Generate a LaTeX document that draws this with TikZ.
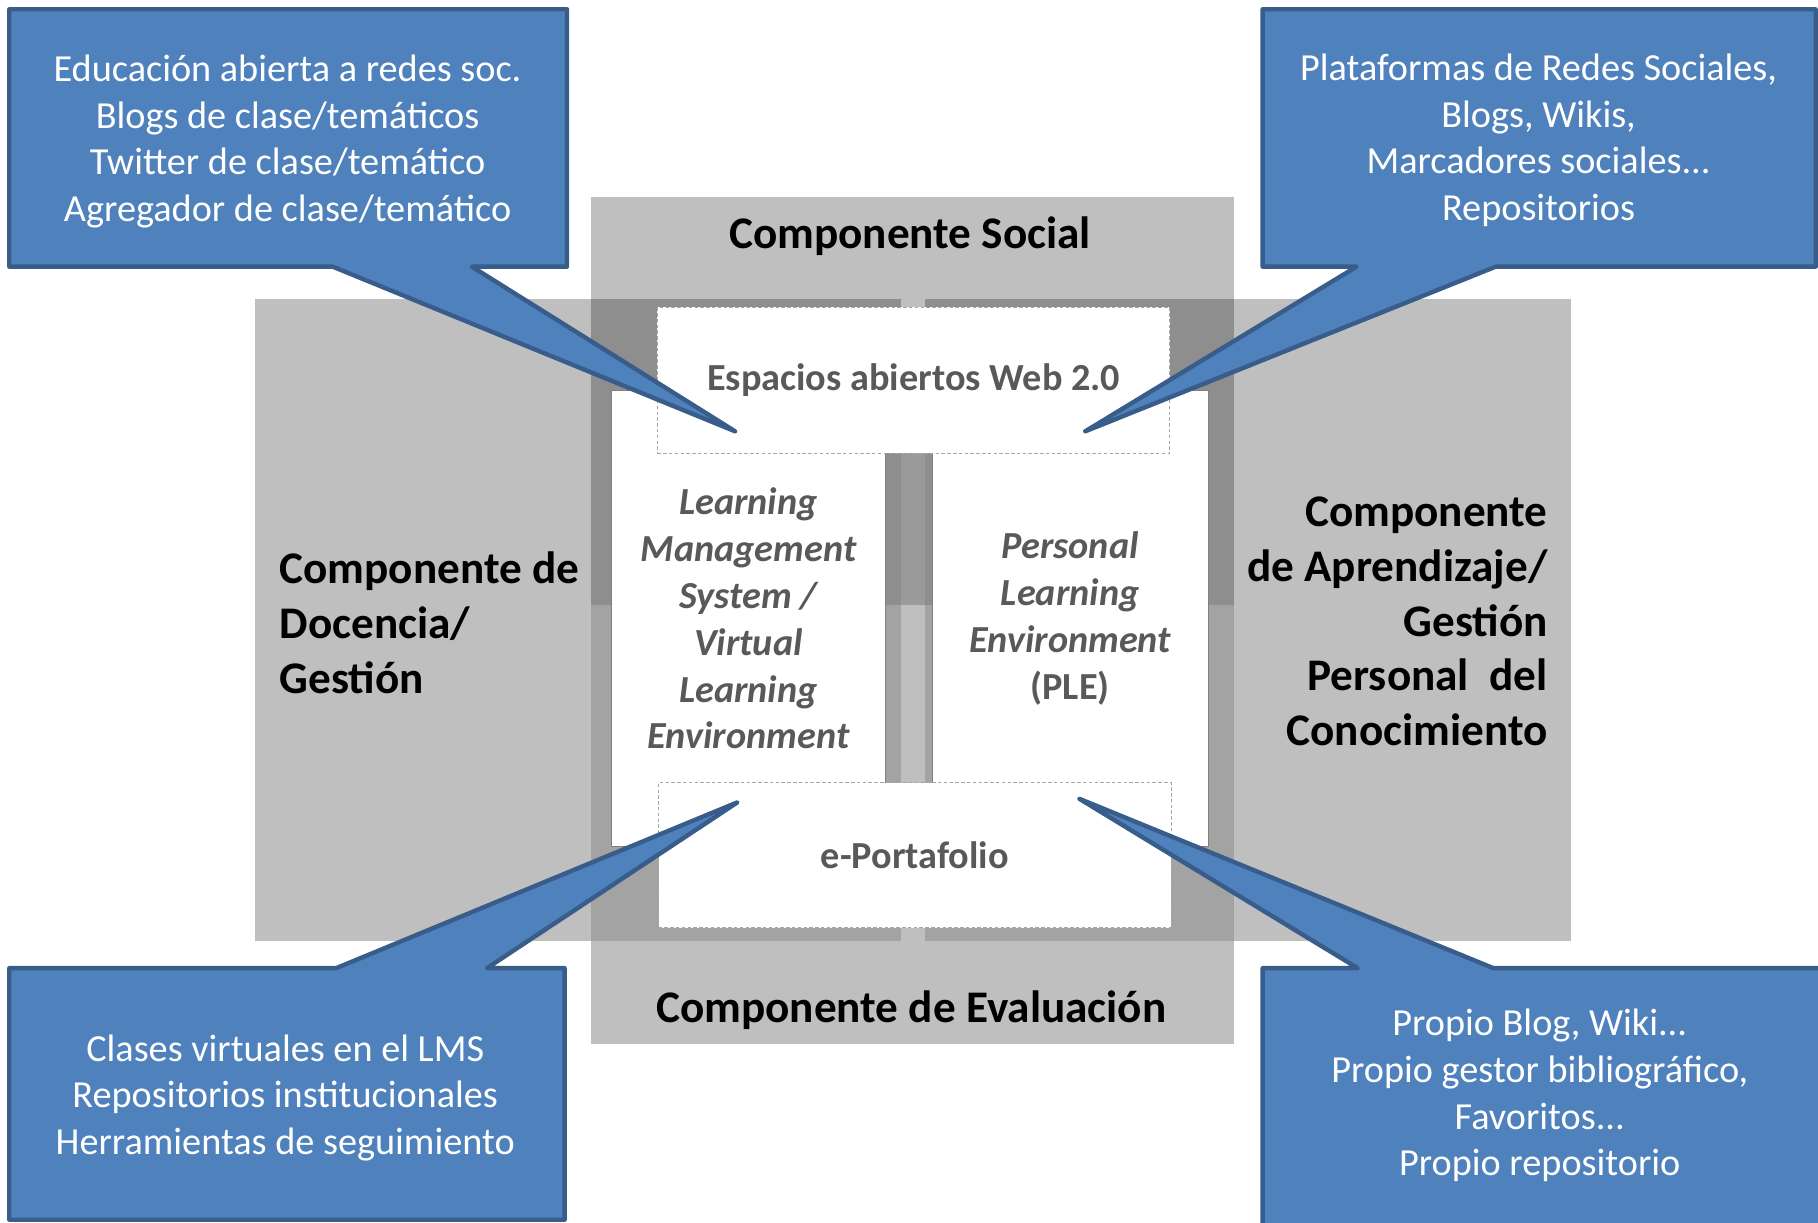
\documentclass[tikz,border=0pt]{standalone}
\usepackage{fontspec}
\setmainfont{Carlito}
\definecolor{bandgray}{HTML}{BFBFBF}
\definecolor{midgray}{HTML}{A3A3A3}
\definecolor{deepgray}{HTML}{8E8E8E}
\definecolor{gapgray}{HTML}{9A9A9A}
\definecolor{bubblefill}{HTML}{4F81BD}
\definecolor{bubbleline}{HTML}{385D8A}
\definecolor{inktext}{HTML}{595959}
\begin{document}
\begin{tikzpicture}[x=1pt,y=-1pt,
  bubble/.style={fill=bubblefill,draw=bubbleline,line width=3.8pt,line join=round},
  bubbletext/.style={text=white,align=center,inner sep=0pt,font=\fontsize{33}{40.3}\selectfont},
  inbox/.style={fill=white,draw=gray,line width=0.8pt,inner sep=0pt},
  dashbox/.style={fill=white,draw=gray!70,line width=0.8pt,dash pattern=on 3pt off 2pt,inner sep=0pt},
  intext/.style={text=inktext,align=center,font=\bfseries\fontsize{33}{40.4}\selectfont},
  compo/.style={inner sep=0pt,font=\bfseries\fontsize{39}{47.3}\selectfont}]
  \useasboundingbox (0,0) rectangle (1568,1054);
  \clip (0,0) rectangle (1568,1054);
  % gray bands
  \fill[bandgray] (510,170) rectangle (1064,900);
  \fill[bandgray] (220,258) rectangle (1355,812);
  \foreach \xa/\xb in {510/777,798/1064} {
    \fill[midgray] (\xa,258) rectangle (\xb,812);
    \fill[deepgray] (\xa,258) rectangle (\xb,522);
  }
  \fill[gapgray] (777,265) rectangle (798,522);
  % inner boxes
  \node (lms) [inbox,intext,minimum width=237pt,minimum height=393pt] at (645.5,533.5)
    {\itshape Learning\\\itshape Management\\\itshape System /\\\itshape Virtual\\\itshape Learning\\\itshape Environment};
  \node (ple) [inbox,intext,minimum width=238pt,minimum height=393pt] at (923,533.5)
    {\itshape Personal\\\itshape Learning\\\itshape Environment\\(PLE)};
  \node (web) [dashbox,intext,minimum width=442pt,minimum height=126pt] at (788,328)
    {Espacios abiertos Web 2.0};
  \node (port) [dashbox,intext,minimum width=442pt,minimum height=125pt] at (789,737.5)
    {e-Portafolio};
  % component labels
  \node (social) [compo] at (785,204) {Componente Social};
  \node (evalua) [compo] at (786,871) {Componente de Evaluación};
  \node (docen) [compo,anchor=west,align=left] at (241,537)
    {Componente de\\Docencia/\\Gestión};
  \node (aprend) [compo,anchor=east,align=right] at (1335,536)
    {Componente\\de Aprendizaje/\\Gestión\\Personal~ del\\Conocimiento};
  % callouts
  \coordinate (tipTL) at (634,372);
  \coordinate (tipTR) at (936,372);
  \coordinate (tipBL) at (636,692);
  \coordinate (tipBR) at (931,689);
  \draw[bubble] (8,8) -- (489,8) -- (489,230) -- (407,230) -- (tipTL) -- (287,230) -- (8,230) -- cycle;
  \draw[bubble] (1089,8) -- (1566,8) -- (1566,230) -- (1290,230) -- (tipTR) -- (1170,230) -- (1089,230) -- cycle;
  \draw[bubble] (8,835) -- (290,835) -- (tipBL) -- (420,835) -- (487,835) -- (487,1052) -- (8,1052) -- cycle;
  \draw[bubble] (1089,835) -- (1171,835) -- (tipBR) -- (1288,835) -- (1575,835) -- (1575,1062) -- (1089,1062) -- cycle;
  \node (tltext) [bubbletext] at (248,122)
    {Educación abierta a redes soc.\\Blogs de clase/temáticos\\Twitter de clase/temático\\Agregador de clase/temático};
  \node (trtext) [bubbletext] at (1327,121)
    {Plataformas de Redes Sociales,\\Blogs, Wikis,\\Marcadores sociales...\\Repositorios};
  \node (bltext) [bubbletext] at (246,947)
    {Clases virtuales en el LMS\\Repositorios institucionales\\Herramientas de seguimiento};
  \node (brtext) [bubbletext] at (1328,945)
    {Propio Blog, Wiki...\\Propio gestor bibliográfico,\\Favoritos...\\Propio repositorio};
\end{tikzpicture}
\end{document}
